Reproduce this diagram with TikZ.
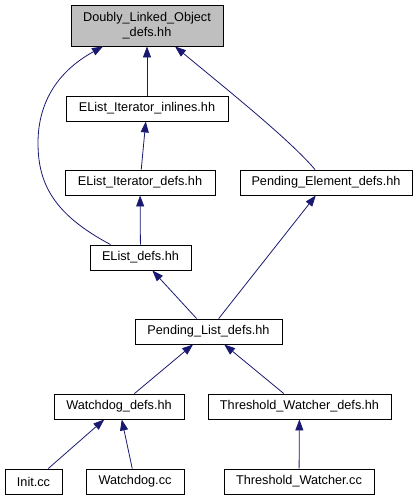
\documentclass[tikz,border=0pt]{standalone}
\usepackage{fontspec}
\setmainfont{Liberation Sans}
\usetikzlibrary{arrows.meta,calc}
\definecolor{edgeblue}{HTML}{191970}
\definecolor{topgray}{HTML}{BFBFBF}
\begin{document}
\begin{tikzpicture}[x=1pt,y=-1pt,
  box/.style={draw=black,line width=0.9pt,rectangle,inner sep=0pt,minimum height=25pt,
    font=\fontsize{12.7}{15}\selectfont,align=center,fill=white},
  dep/.style={draw=edgeblue,line width=0.8pt,-{Triangle[length=11pt,width=8pt]}}]
\useasboundingbox (0,0) rectangle (417,500);
\node[box,fill=topgray,minimum width=152pt,minimum height=41pt] (top) at (147,25.5) {Doubly\_Linked\_Object\\\_defs.hh};
\node[box,minimum width=162pt] (inl) at (147,108.5) {EList\_Iterator\_inlines.hh};
\node[box,minimum width=150pt] (itd) at (140,182.5) {EList\_Iterator\_defs.hh};
\node[box,minimum width=172pt] (ped) at (326,182.5) {Pending\_Element\_defs.hh};
\node[box,minimum width=101pt] (eld) at (140.5,257.5) {EList\_defs.hh};
\node[box,minimum width=147pt] (pld) at (208.5,331.5) {Pending\_List\_defs.hh};
\node[box,minimum width=130pt] (wdd) at (119,406.5) {Watchdog\_defs.hh};
\node[box,minimum width=183pt] (twd) at (299.5,406.5) {Threshold\_Watcher\_defs.hh};
\node[box,minimum width=57pt] (init) at (33.5,481.5) {Init.cc};
\node[box,minimum width=98pt] (wdc) at (135,481.5) {Watchdog.cc};
\node[box,minimum width=150pt] (twc) at (299,481.5) {Threshold\_Watcher.cc};

\draw[dep] (inl) -- (top);
\draw[dep] (itd) -- (inl);
\draw[dep] (eld) -- (itd);
\draw[dep] (pld) -- (eld);
\draw[dep] (pld) -- (ped);
\draw[dep] (wdd) -- (pld);
\draw[dep] (twd) -- (pld);
\draw[dep] (init) -- (wdd);
\draw[dep] (wdc) -- (wdd);
\draw[dep] (twc) -- (twd);
\coordinate (eldA) at ($(eld.north)+(-30,0)$);
\coordinate (topA) at ($(top.south)+(-44,0)$);
\draw[dep] (eldA) .. controls (55,215) and (38,185) .. (38,143) .. controls (38,100) and (60,70) .. (topA);
\coordinate (pedA) at ($(ped.north)+(-11,0)$);
\coordinate (topB) at ($(top.south)+(28,0)$);
\draw[dep] (pedA) .. controls (290,140) and (230,92) .. (topB);
\end{tikzpicture}
\end{document}
